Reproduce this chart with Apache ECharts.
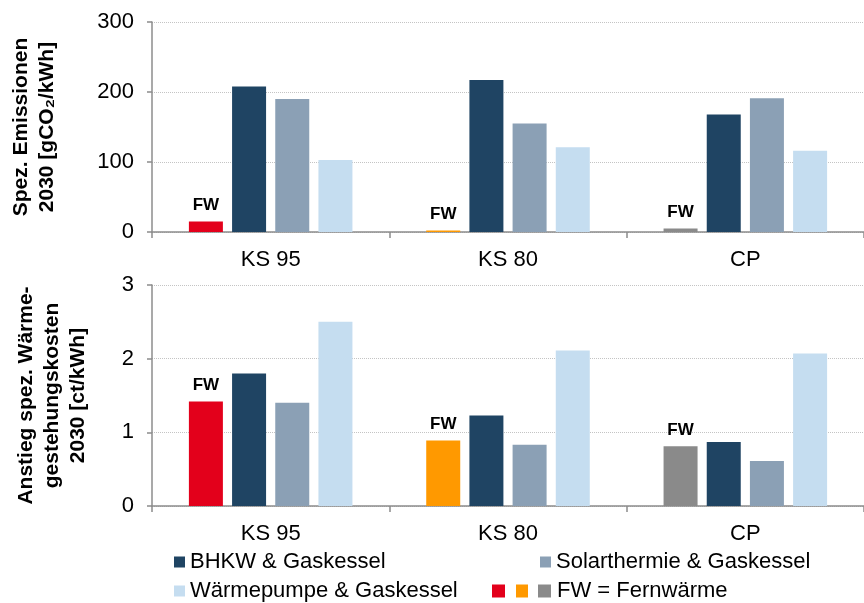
<!DOCTYPE html>
<html>
<head>
<meta charset="utf-8">
<script src="https://cdn.jsdelivr.net/npm/echarts@6/dist/echarts.min.js"></script>
<style>
  html, body { margin: 0; padding: 0; background: #fff; }
  #chart { width: 864px; height: 603px; }
</style>
</head>
<body>
<div id="chart"></div>
<script>
// Building standards / cases
const categories = ['KS 95', 'KS 80', 'CP'];

// Specific emissions 2030 [gCO2/kWh]
const emissionFW = [15, 2, 5];
const emissionBHKW = [208, 217, 168];
const emissionSolar = [190, 155, 191];
const emissionWP = [103, 121, 116];

// Increase of specific heat generation costs 2030 [ct/kWh]
const costFW = [1.42, 0.89, 0.81];
const costBHKW = [1.80, 1.23, 0.87];
const costSolar = [1.40, 0.83, 0.61];
const costWP = [2.50, 2.11, 2.07];

// Series names (legend entries)
const NAME_BHKW = 'BHKW & Gaskessel';
const NAME_SOLAR = 'Solarthermie & Gaskessel';
const NAME_WP = 'Wärmepumpe & Gaskessel';
const NAME_FW = 'FW = Fernwärme';

// Styling
const FONT = '"Liberation Sans", Arial, sans-serif';
const COLOR_BHKW = '#1F4463';
const COLOR_SOLAR = '#8BA0B5';
const COLOR_WP = '#C5DDF0';
const FW_COLORS = ['#E3001B', '#FF9900', '#8A8A8A'];
const AXIS_COLOR = '#8c8c8c';

const chart = echarts.init(document.getElementById('chart'), null, { renderer: 'canvas' });

function xAxisFor(gridIndex) {
  return {
    type: 'category',
    gridIndex: gridIndex,
    data: categories,
    axisLine: { show: true, lineStyle: { color: AXIS_COLOR, width: 1.5 } },
    axisTick: { show: true, length: 6, lineStyle: { color: AXIS_COLOR, width: 1.5 } },
    axisLabel: { fontFamily: FONT, fontSize: 22, color: '#000', margin: 17 }
  };
}

function yAxisFor(gridIndex, max, interval, name, gap) {
  return {
    type: 'value',
    gridIndex: gridIndex,
    min: 0,
    max: max,
    interval: interval,
    name: name,
    nameLocation: 'middle',
    nameRotate: 90,
    nameGap: gap,
    nameTextStyle: { fontFamily: FONT, fontSize: 21, fontWeight: 'bold', color: '#000', lineHeight: 26 },
    axisLine: { show: true, lineStyle: { color: AXIS_COLOR, width: 1.5 } },
    axisTick: { show: true, length: 5, lineStyle: { color: AXIS_COLOR, width: 1.5 } },
    axisLabel: { fontFamily: FONT, fontSize: 22, color: '#000', margin: 18 },
    splitLine: { show: true, lineStyle: { color: '#c4c4c4', type: 'dotted', width: 1 } }
  };
}

const fwLabel = {
  show: true,
  position: 'top',
  distance: 8,
  formatter: 'FW',
  fontFamily: FONT,
  fontSize: 17,
  fontWeight: 'bold',
  color: '#000'
};

function barSeries(name, values, color, axisIndex) {
  return {
    name: name,
    type: 'bar',
    xAxisIndex: axisIndex,
    yAxisIndex: axisIndex,
    barWidth: 34,
    barGap: '27%',
    itemStyle: { color: color },
    data: values
  };
}

function fwSeries(values, axisIndex) {
  return {
    name: NAME_FW,
    type: 'bar',
    xAxisIndex: axisIndex,
    yAxisIndex: axisIndex,
    barWidth: 34,
    barGap: '27%',
    itemStyle: { color: FW_COLORS[0] },
    label: fwLabel,
    data: values.map((v, i) => ({ value: v, itemStyle: { color: FW_COLORS[i] } }))
  };
}

const legendText = { fontFamily: FONT, fontSize: 22, color: '#000' };

function legendAt(name, left, top) {
  return {
    data: [name],
    left: left,
    top: top,
    icon: 'rect',
    itemWidth: 11,
    itemHeight: 11,
    padding: 0,
    textStyle: legendText
  };
}

const option = {
  backgroundColor: '#fff',
  animation: false,
  grid: [
    { left: 152, top: 22, width: 718, height: 210 },
    { left: 152, top: 285, width: 718, height: 221 }
  ],
  xAxis: [xAxisFor(0), xAxisFor(1)],
  yAxis: [
    yAxisFor(0, 300, 100, 'Spez. Emissionen\n2030 [gCO₂/kWh]', 92),
    yAxisFor(1, 3, 1, 'Anstieg spez. Wärme-\ngestehungskosten\n2030 [ct/kWh]', 61)
  ],
  legend: [
    legendAt(NAME_BHKW, 174, 551),
    legendAt(NAME_SOLAR, 540, 551),
    legendAt(NAME_WP, 174, 580),
    {
      data: [{ name: NAME_FW, icon: 'none' }],
      left: 487,
      top: 580,
      itemWidth: 0,
      itemHeight: 13,
      padding: 0,
      formatter: function (name) {
        return '{r|}{s1|}{o|}{s2|}{g|}{s3|}' + name;
      },
      textStyle: Object.assign({}, legendText, {
        rich: {
          r: { backgroundColor: FW_COLORS[0], width: 13, height: 13, verticalAlign: 'middle' },
          o: { backgroundColor: FW_COLORS[1], width: 12, height: 13, verticalAlign: 'middle' },
          g: { backgroundColor: FW_COLORS[2], width: 13, height: 13, verticalAlign: 'middle' },
          s1: { width: 11, height: 13 },
          s2: { width: 10, height: 13 },
          s3: { width: 6, height: 13 }
        }
      })
    }
  ],
  series: [
    fwSeries(emissionFW, 0),
    barSeries(NAME_BHKW, emissionBHKW, COLOR_BHKW, 0),
    barSeries(NAME_SOLAR, emissionSolar, COLOR_SOLAR, 0),
    barSeries(NAME_WP, emissionWP, COLOR_WP, 0),
    fwSeries(costFW, 1),
    barSeries(NAME_BHKW, costBHKW, COLOR_BHKW, 1),
    barSeries(NAME_SOLAR, costSolar, COLOR_SOLAR, 1),
    barSeries(NAME_WP, costWP, COLOR_WP, 1)
  ]
};

chart.setOption(option);
</script>
</body>
</html>
